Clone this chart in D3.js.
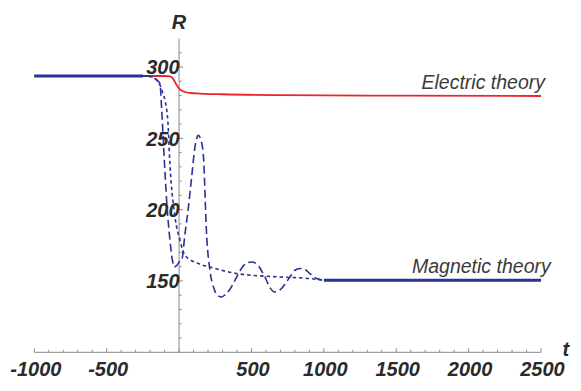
<!DOCTYPE html>
<html>
<head>
<meta charset="utf-8">
<script src="https://cdn.jsdelivr.net/npm/d3@7"></script>
<style>
  html, body { margin: 0; padding: 0; background: #fff; }
  svg { display: block; }
  .tick-label { font-family: "Liberation Sans", Arial, sans-serif; font-weight: bold; font-style: italic; font-size: 20px; fill: #2a2a2a; }
  .curve-label { font-family: "Liberation Sans", Arial, sans-serif; font-style: italic; font-size: 19.5px; fill: #3a3a3a; }
</style>
</head>
<body>
<svg id="chart" width="581" height="391"></svg>
<script>
// ---- data ----
const xMajorTicks = [-1000, -500, 500, 1000, 1500, 2000, 2500];
const yMajorTicks = [150, 200, 250, 300];

const electricT = [-1000, -250, -100, -63, -45, -28, -15, 1, 20, 41, 80, 144, 300, 700, 1500, 2500];
const electricR = [293.7, 293.7, 293.7, 293.5, 292.3, 289.5, 287, 284.9, 283.3, 282.5, 281.8, 281.4, 280.9, 280.3, 279.9, 279.7];

const magneticStartT = [-1000, -250];
const magneticStartR = [293.7, 293.7];
const magneticEndT = [1000, 2500];
const magneticEndR = [150.5, 150.5];

const dashedT = [-250, -215, -180, -150, -132, -120, -103, -86, -63, -45, -33, -15, 1, 18, 41, 64, 87, 110, 133, 150, 167, 191, 213, 240, 265, 294, 320, 350, 386, 420, 460, 501, 540, 593, 630, 662, 700, 766, 800, 835, 870, 904, 951, 1000];
const dashedR = [293.7, 293.6, 292.6, 290.5, 288.4, 269.7, 236.9, 206.6, 178.6, 164, 159.8, 161, 163.3, 164.5, 183.2, 201.3, 222.9, 244, 252.1, 249, 239.3, 180.9, 157.5, 145, 140, 138.8, 140.5, 144, 150.5, 157, 162, 163.3, 161.5, 152.8, 145, 142.3, 144, 152.8, 157.5, 158.7, 158, 155.2, 151.7, 150.5];

const dottedT = [-250, -200, -160, -130, -110, -97, -75, -68, -28, 6, 41, 133, 213, 398, 697, 904, 1000];
const dottedR = [293.7, 293.3, 291.5, 287, 281, 276.6, 258, 241.6, 194.9, 178.6, 168, 162.2, 159.8, 155.2, 152.8, 151.7, 150.5];

// ---- chart ----
const svg = d3.select("#chart");
const x = d3.scaleLinear().domain([-1000, 2500]).range([34.3, 541]);
const y = d3.scaleLinear().domain([100, 320]).range([352.3, 38.5]);

const axisColor = "#8a8a8a";
const blue = "#2c3192";
const red = "#e9262b";

// x axis
const xAxis = svg.append("g");
xAxis.append("line").attr("x1", x(-1000)).attr("x2", x(2500)).attr("y1", y(100)).attr("y2", y(100))
  .attr("stroke", axisColor).attr("stroke-width", 1);
d3.range(-1000, 2501, 100).forEach(v => {
  const major = v % 500 === 0;
  xAxis.append("line").attr("x1", x(v)).attr("x2", x(v))
    .attr("y1", y(100)).attr("y2", y(100) - (major ? 4 : 2.5))
    .attr("stroke", axisColor).attr("stroke-width", 1);
});
xMajorTicks.forEach(v => {
  xAxis.append("text").attr("class", "tick-label").attr("x", x(v) + 1.5).attr("y", 376)
    .attr("text-anchor", "middle").text(v);
});
svg.append("text").attr("class", "tick-label").attr("x", 562.5).attr("y", 355.5).text("t");

// y axis
const yAxis = svg.append("g");
yAxis.append("line").attr("x1", x(0)).attr("x2", x(0)).attr("y1", y(100)).attr("y2", y(320))
  .attr("stroke", axisColor).attr("stroke-width", 1);
d3.range(110, 311, 10).forEach(v => {
  const major = v % 50 === 0;
  yAxis.append("line").attr("x1", x(0)).attr("x2", x(0) + (major ? 4 : 2.5))
    .attr("y1", y(v)).attr("y2", y(v))
    .attr("stroke", axisColor).attr("stroke-width", 1);
});
yMajorTicks.forEach(v => {
  yAxis.append("text").attr("class", "tick-label").attr("x", x(0) + 0.5).attr("y", y(v) + 7.3)
    .attr("text-anchor", "end").text(v);
});
svg.append("text").attr("class", "tick-label").attr("x", x(0)).attr("y", 29.3)
  .attr("text-anchor", "middle").text("R");

// curves
const curveLine = d3.line().x(d => x(d[0])).y(d => y(d[1])).curve(d3.curveMonotoneX);
const straight = d3.line().x(d => x(d[0])).y(d => y(d[1]));
const zip = (a, b) => a.map((t, i) => [t, b[i]]);

svg.append("path").datum(zip(electricT, electricR)).attr("d", curveLine)
  .attr("fill", "none").attr("stroke", red).attr("stroke-width", 1.8);

svg.append("path").datum(zip(dottedT, dottedR)).attr("d", curveLine)
  .attr("fill", "none").attr("stroke", blue).attr("stroke-width", 1.6)
  .attr("stroke-dasharray", "3.5,3");

svg.append("path").datum(zip(dashedT, dashedR)).attr("d", curveLine)
  .attr("fill", "none").attr("stroke", blue).attr("stroke-width", 1.6)
  .attr("stroke-dasharray", "8,4");

svg.append("path").datum(zip(magneticStartT, magneticStartR)).attr("d", straight)
  .attr("fill", "none").attr("stroke", blue).attr("stroke-width", 3);
svg.append("path").datum(zip(magneticEndT, magneticEndR)).attr("d", straight)
  .attr("fill", "none").attr("stroke", blue).attr("stroke-width", 3);

// curve labels
svg.append("text").attr("class", "curve-label").attr("x", 421.5).attr("y", 89.3).text("Electric theory");
svg.append("text").attr("class", "curve-label").attr("x", 412).attr("y", 273.3).text("Magnetic theory");
</script>
</body>
</html>
